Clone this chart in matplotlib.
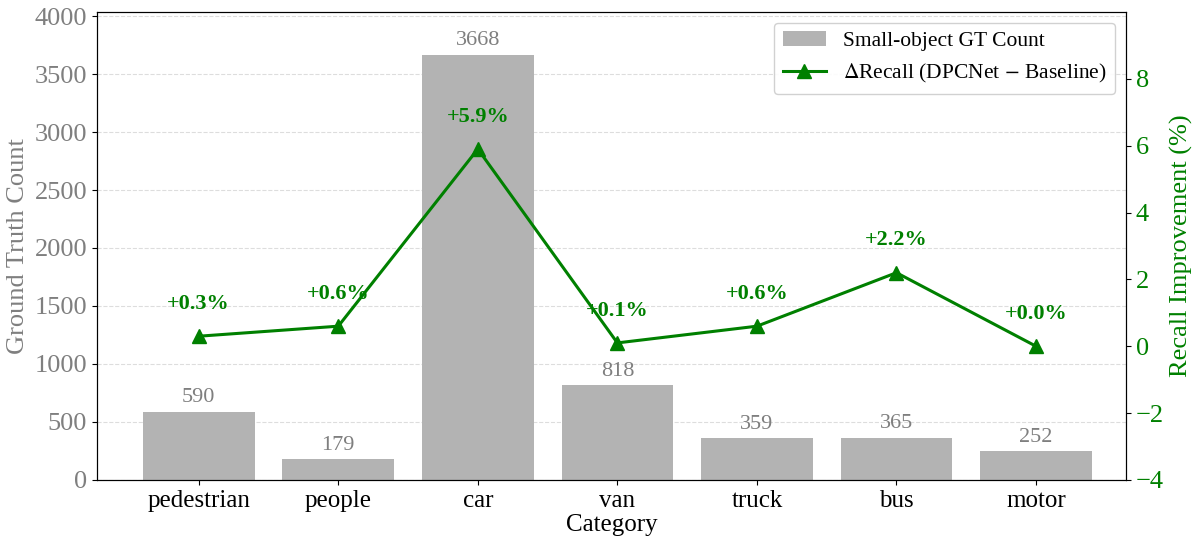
import matplotlib.pyplot as plt

plt.rcParams['font.family'] = ['Liberation Serif', 'DejaVu Serif']
plt.rcParams['mathtext.fontset'] = 'stix'

categories = ['pedestrian', 'people', 'car', 'van', 'truck', 'bus', 'motor']
gt_counts = [590, 179, 3668, 818, 359, 365, 252]
recall_delta = [0.3, 0.6, 5.9, 0.1, 0.6, 2.2, 0.0]

GREEN = '#008000'
GRAY = '#7f7f7f'

fig, ax = plt.subplots(figsize=(11.96, 5.46), dpi=100)
fig.subplots_adjust(left=0.081, right=0.9415, top=0.978, bottom=0.121)

x = list(range(len(categories)))
bars = ax.bar(x, gt_counts, width=0.8, color='#b3b3b3', label='Small-object GT Count', zorder=2)
ax.bar_label(bars, labels=[str(v) for v in gt_counts], padding=3, fontsize=16, color=GRAY)
ax.set_ylim(0, max(gt_counts) * 1.1)
ax.set_yticks(range(0, 4001, 500))
ax.set_xlim(-0.73, 6.645)
ax.set_xticks(x)
ax.set_xticklabels(categories, fontsize=18)
ax.set_xlabel('Category', fontsize=18, labelpad=2)
ax.set_ylabel('Ground Truth Count', fontsize=19, color=GRAY)
ax.tick_params(axis='y', labelsize=19, labelcolor=GRAY)
ax.grid(axis='y', linestyle='--', color='#dddddd', linewidth=0.8, zorder=0)
ax.set_axisbelow(True)

ax2 = ax.twinx()
line, = ax2.plot(x, recall_delta, color=GREEN, marker='^', markersize=10, linewidth=2.2,
                 label=r'$\Delta$Recall (DPCNet $-$ Baseline)')
for xi, v in zip(x, recall_delta):
    ax2.annotate(f'+{v:.1f}%', (xi, v), xytext=(0, 16), textcoords='offset points',
                 ha='center', va='bottom', fontsize=16, fontweight='bold', color=GREEN)
ax2.set_ylim(-4, 10)
ax2.set_yticks([-4, -2, 0, 2, 4, 6, 8])
ax2.set_ylabel('Recall Improvement (%)', fontsize=19, color=GREEN)
ax2.tick_params(axis='y', labelsize=19, labelcolor=GREEN)

handles = [bars, line]
ax.legend(handles, [h.get_label() for h in handles], loc='upper right',
          fontsize=15.5, framealpha=0.9, edgecolor='#cccccc')

fig.savefig('out.png', dpi=100)
